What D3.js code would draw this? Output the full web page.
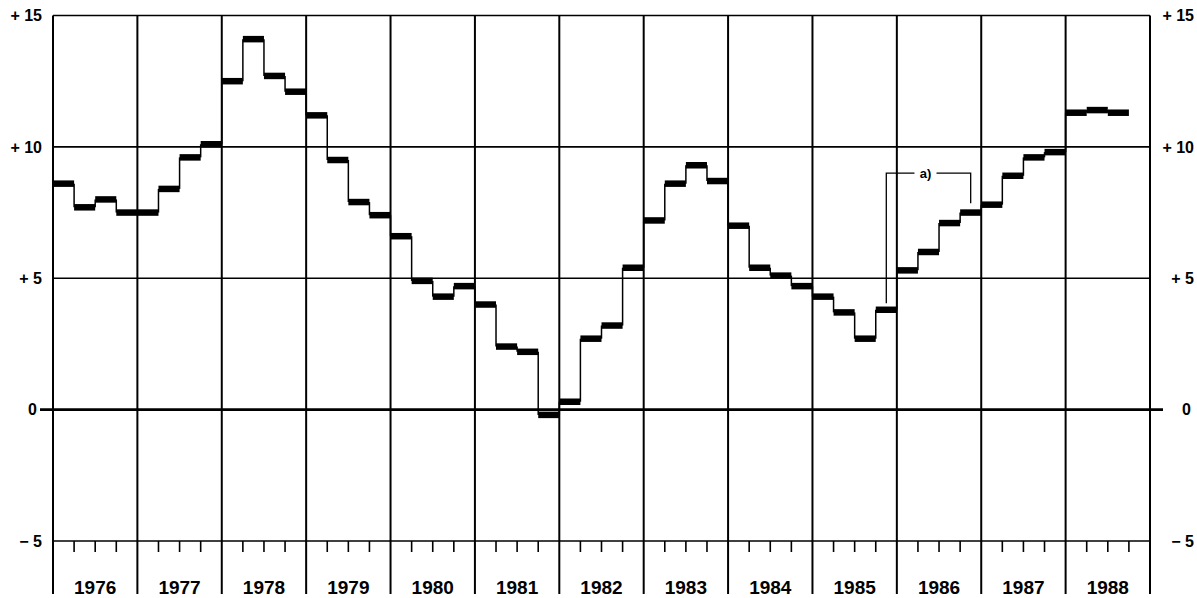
<!DOCTYPE html>
<html>
<head>
<meta charset="utf-8">
<script src="https://cdn.jsdelivr.net/npm/d3@7"></script>
<style>
  html, body { margin: 0; padding: 0; background: #fff; }
  svg { display: block; font-family: "Liberation Sans", Arial, sans-serif; }
</style>
</head>
<body>
<svg id="chart" width="1197" height="598"></svg>
<script>
// ---- data ----
const years = ["1976","1977","1978","1979","1980","1981","1982","1983","1984","1985","1986","1987","1988"];
const quartersPerYear = 4;
// quarterly values, in order (1976 Q1 ... 1988 Q3)
const values = [
  8.6, 7.7, 8.0, 7.5,     // 1976
  7.5, 8.4, 9.6, 10.1,    // 1977
  12.5, 14.1, 12.7, 12.1, // 1978
  11.2, 9.5, 7.9, 7.4,    // 1979
  6.6, 4.9, 4.3, 4.7,     // 1980
  4.0, 2.4, 2.2, -0.2,    // 1981
  0.3, 2.7, 3.2, 5.4,     // 1982
  7.2, 8.6, 9.3, 8.7,     // 1983
  7.0, 5.4, 5.1, 4.7,     // 1984
  4.3, 3.7, 2.7, 3.8,     // 1985
  5.3, 6.0, 7.1, 7.5,     // 1986
  7.8, 8.9, 9.6, 9.8,     // 1987
  11.3, 11.4, 11.3        // 1988
];
const yTicks = [15, 10, 5, 0, -5];
const yTickLabels = ["+ 15", "+ 10", "+ 5", "0", "\u2212 5"];
// annotation "a)" bracket: [quarter position, value top, value bottom]
const annotLabel = "a)";
const annotLeft = [39.5, 9.0, 4.05];
const annotRight = [43.5, 9.0, 7.85];

// ---- layout ----
const svg = d3.select("#chart");
const mLeft = 53, mRight = 1150, mTop = 15.5, mBottom = 541;
const nQ = years.length * quartersPerYear;

const x = d3.scaleLinear().domain([0, nQ]).range([mLeft, mRight]);
const y = d3.scaleLinear().domain([-5, 15]).range([mBottom, mTop]);

const g = svg.append("g");

// horizontal grid lines
g.selectAll("line.hgrid").data(yTicks).join("line")
  .attr("x1", d => d === 0 ? mLeft - 13 : mLeft)
  .attr("x2", d => d === 0 ? mRight + 13 : mRight)
  .attr("y1", d => y(d)).attr("y2", d => y(d))
  .attr("stroke", "#000")
  .attr("stroke-width", d => d === 0 ? 2.6 : 1.6);

// vertical year lines
const yearBounds = d3.range(0, years.length + 1).map(i => i * quartersPerYear);
g.selectAll("line.vgrid").data(yearBounds).join("line")
  .attr("x1", d => x(d)).attr("x2", d => x(d))
  .attr("y1", mTop).attr("y2", 594)
  .attr("stroke", "#000")
  .attr("stroke-width", 2);

// quarter ticks at bottom
const qTicks = d3.range(0, nQ).filter(i => i % quartersPerYear !== 0);
g.selectAll("line.qtick").data(qTicks).join("line")
  .attr("x1", d => x(d)).attr("x2", d => x(d))
  .attr("y1", mBottom).attr("y2", mBottom + 11)
  .attr("stroke", "#000").attr("stroke-width", 1.6);

// year labels
g.selectAll("text.year").data(years).join("text")
  .attr("x", (d, i) => x(i * quartersPerYear + quartersPerYear / 2))
  .attr("y", 594)
  .attr("text-anchor", "middle")
  .attr("font-size", 19).attr("font-weight", "bold")
  .text(d => d);

// y axes (labels only)
const yAxisL = d3.axisLeft(y).tickValues(yTicks)
  .tickFormat((d, i) => yTickLabels[i]).tickSize(0).tickPadding(11);
const yAxisR = d3.axisRight(y).tickValues(yTicks)
  .tickFormat((d, i) => yTickLabels[i]).tickSize(0).tickPadding(12);

const axL = svg.append("g").attr("transform", `translate(${mLeft},0)`).call(yAxisL);
const axR = svg.append("g").attr("transform", `translate(${mRight},0)`).call(yAxisR);
[axL, axR].forEach(ax => {
  ax.select(".domain").remove();
  ax.selectAll("text").attr("font-size", 16).attr("font-weight", "bold")
    .attr("font-family", "Liberation Sans, Arial, sans-serif").attr("fill", "#000");
});
axL.selectAll(".tick").filter(d => d === 0).select("text").attr("x", -16);
axR.selectAll("text").attr("text-anchor", "end").attr("x", 1194 - mRight);
axR.selectAll(".tick").filter(d => d === 0).select("text").attr("x", 1191 - mRight);

// step series: thin risers
const risers = d3.range(1, values.length);
g.selectAll("line.riser").data(risers).join("line")
  .attr("x1", i => x(i)).attr("x2", i => x(i))
  .attr("y1", i => y(values[i - 1])).attr("y2", i => y(values[i]))
  .attr("stroke", "#000").attr("stroke-width", 1.5);

// step series: thick horizontal bars
g.selectAll("line.bar").data(values).join("line")
  .attr("x1", (d, i) => x(i)).attr("x2", (d, i) => x(i + 1))
  .attr("y1", d => y(d)).attr("y2", d => y(d))
  .attr("stroke", "#000").attr("stroke-width", 6.5);

// annotation bracket
const ann = svg.append("g");
const lineGen = d3.line();
const labelX = (x(annotLeft[0]) + x(annotRight[0])) / 2 - 6;
ann.append("path")
  .attr("d", lineGen([
    [x(annotLeft[0]), y(annotLeft[2])],
    [x(annotLeft[0]), y(annotLeft[1])],
    [labelX - 8, y(annotLeft[1])]
  ]))
  .attr("fill", "none").attr("stroke", "#000").attr("stroke-width", 1.3);
ann.append("path")
  .attr("d", lineGen([
    [labelX + 14, y(annotRight[1])],
    [x(annotRight[0]), y(annotRight[1])],
    [x(annotRight[0]), y(annotRight[2])]
  ]))
  .attr("fill", "none").attr("stroke", "#000").attr("stroke-width", 1.3);
ann.append("text")
  .attr("x", labelX + 3).attr("y", y(annotLeft[1]))
  .attr("dy", "0.35em")
  .attr("text-anchor", "middle")
  .attr("font-size", 13).attr("font-weight", "bold")
  .text(annotLabel);
</script>
</body>
</html>
